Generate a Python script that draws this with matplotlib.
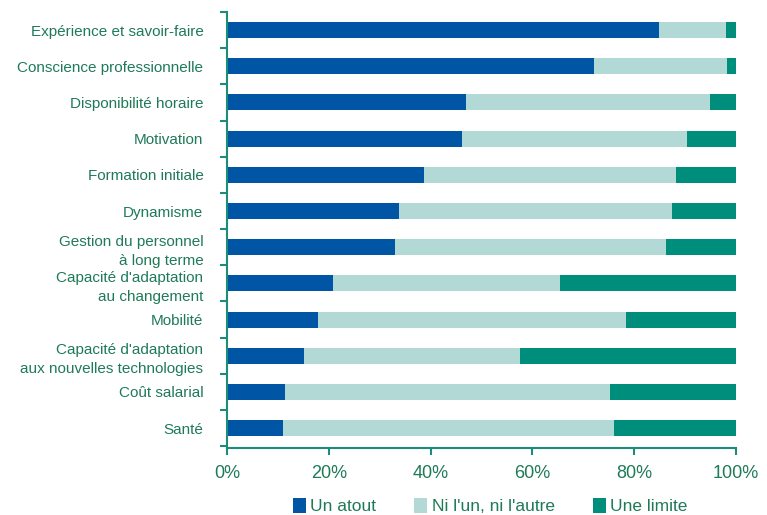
import matplotlib
matplotlib.use("Agg")
import matplotlib.pyplot as plt
from matplotlib.patches import Patch
import numpy as np

# Data (percent)
categories = [
    "Expérience et savoir-faire",
    "Conscience professionnelle",
    "Disponibilité horaire",
    "Motivation",
    "Formation initiale",
    "Dynamisme",
    "Gestion du personnel\nà long terme",
    "Capacité d'adaptation\nau changement",
    "Mobilité",
    "Capacité d'adaptation\naux nouvelles technologies",
    "Coût salarial",
    "Santé",
]
atout = [84.9, 72.1, 46.9, 46.2, 38.7, 33.8, 33.0, 20.8, 17.9, 15.2, 11.3, 11.0]
ni_ni = [13.1, 26.1, 48.0, 44.2, 49.5, 53.6, 53.3, 44.6, 60.5, 42.4, 63.9, 65.0]
limite = [2.0, 1.8, 5.1, 9.6, 11.8, 12.6, 13.7, 34.6, 21.6, 42.4, 24.8, 24.0]
series_labels = ["Un atout", "Ni l'un, ni l'autre", "Une limite"]
xticks = [0, 20, 40, 60, 80, 100]

COLORS = ["#0056A4", "#B3D9D6", "#008E7C"]
TEXT = "#1F7A58"
AXIS = "#1E8C7A"

plt.rcParams["font.family"] = ["Liberation Sans", "DejaVu Sans"]

fig = plt.figure(figsize=(7.67, 5.15), dpi=100)
ax = fig.add_axes([227 / 767, 1 - 448 / 515, (736 - 227) / 767, (448 - 12) / 515])

y = np.arange(len(categories))
left = np.zeros(len(categories))
for vals, col in zip([atout, ni_ni, limite], COLORS):
    ax.barh(y, vals, left=left, height=0.44, color=col, edgecolor="none")
    left = left + np.array(vals)

ax.set_xlim(0, 100)
ax.set_ylim(11.55, -0.5)

ax.set_yticks(y)
ax.set_yticklabels(categories, fontsize=11, color=TEXT, ha="right",
                   linespacing=1.45)
ax.tick_params(axis="y", which="major", length=0, pad=17)
ax.set_yticks(np.arange(len(categories) + 1) - 0.5, minor=True)
ax.tick_params(axis="y", which="minor", length=5, width=1.5, color=AXIS,
               direction="out")

ax.set_xticks(xticks)
ax.set_xticklabels([f"{v}%" for v in xticks], fontsize=13, color=TEXT)
ax.tick_params(axis="x", length=5, width=1.5, color=AXIS, pad=7)

for side in ["top", "right"]:
    ax.spines[side].set_visible(False)
for side in ["left", "bottom"]:
    ax.spines[side].set_color(AXIS)
    ax.spines[side].set_linewidth(1.5)

handles = [Patch(facecolor=c, edgecolor="none") for c in COLORS]
fig.legend(handles, series_labels, loc="center", bbox_to_anchor=(0.639, 0.017),
           ncol=3, frameon=False, fontsize=12.5, labelcolor=TEXT,
           handlelength=0.75, handleheight=0.9, handletextpad=0.25,
           columnspacing=2.2)

fig.savefig("out.png", dpi=100)
